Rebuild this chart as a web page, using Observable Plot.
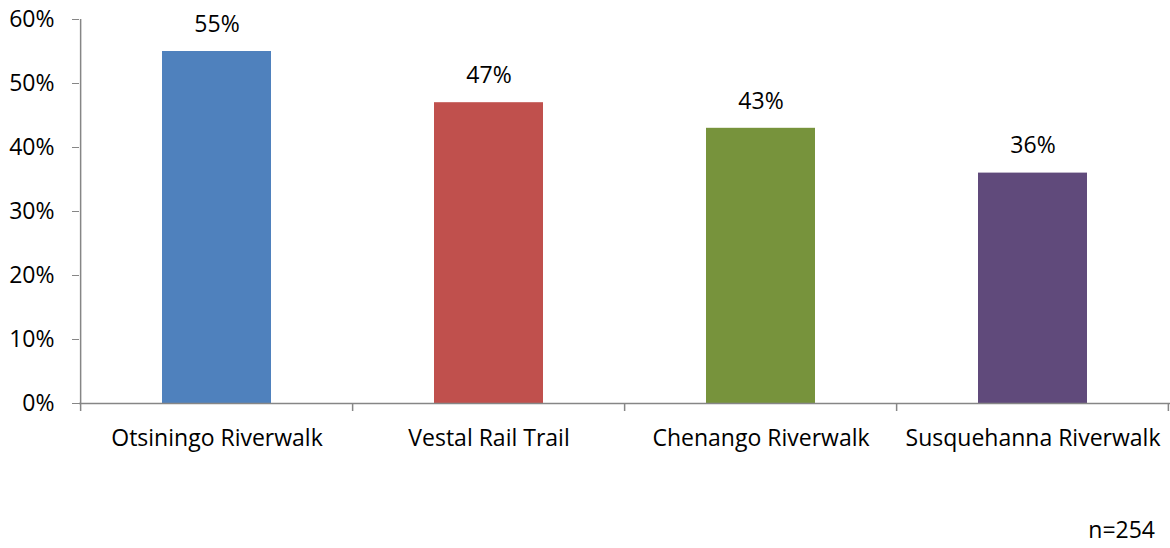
<!DOCTYPE html>
<html>
<head>
<meta charset="utf-8">
<script src="https://cdn.jsdelivr.net/npm/d3@7"></script>
<script src="https://cdn.jsdelivr.net/npm/@observablehq/plot@0.6"></script>
<style>
  html, body { margin: 0; padding: 0; background: #fff; }
  body { width: 1170px; height: 548px; overflow: hidden; font-family: "Open Sans", sans-serif; position: relative; }
  #caption { position: absolute; right: 15px; top: 513px; text-align: right; font-size: 23px; color: #000; line-height: 32px; }
</style>
</head>
<body>
<div id="chart"></div>
<div id="caption">n=254</div>
<script>
const categories = ["Otsiningo Riverwalk", "Vestal Rail Trail", "Chenango Riverwalk", "Susquehanna Riverwalk"];
const values = [55, 47, 43, 36];
const colors = ["#4F81BD", "#C0504D", "#77933C", "#604A7B"];
const yTicks = [0, 10, 20, 30, 40, 50, 60];

const data = categories.map((c, i) => ({category: c, value: values[i], color: colors[i]}));

const W = 1170, H = 470;
const mL = 79, mR = 0, mT = 19, mB = 67;
const bw = (W - mL - mR) / categories.length;
const axisColor = "#868686";
const fs = 23;

const chart = Plot.plot({
  width: W,
  height: H,
  marginLeft: mL,
  marginRight: mR,
  marginTop: mT,
  marginBottom: mB,
  style: {fontFamily: "Open Sans, sans-serif", fontSize: fs + "px", color: "#000", background: "#fff", overflow: "visible"},
  x: {domain: categories, paddingInner: 0.6, paddingOuter: 0.3, label: null},
  y: {domain: [0, 60], label: null},
  color: {type: "identity"},
  marks: [
    Plot.barY(data, {x: "category", y: "value", fill: "color"}),
    Plot.text(data, {x: "category", y: "value", text: d => d.value + "%", dy: -27, fill: "#000", fontSize: fs}),
    Plot.axisY({ticks: yTicks, tickFormat: d => d + "%", tickSize: 7, tickPadding: 18, stroke: axisColor, fill: "#000", label: null, fontSize: fs}),
    Plot.axisX({tickSize: 0, tickPadding: 26, fill: "#000", label: null, fontSize: fs}),
    Plot.ruleY([0], {stroke: axisColor, strokeWidth: 1.5}),
    Plot.ruleX([categories[0]], {x: d => d, dx: -bw / 2, y1: 0, y2: 60, stroke: axisColor, strokeWidth: 1.5}),
    Plot.ruleX(categories, {x: d => d, dx: -bw / 2, y1: 0, y2: -1.25, stroke: axisColor, strokeWidth: 1.5}),
    Plot.ruleX([categories[categories.length - 1]], {x: d => d, dx: bw / 2 - 1, y1: 0, y2: -1.25, stroke: axisColor, strokeWidth: 1.5})
  ]
});
document.getElementById("chart").appendChild(chart);
</script>
</body>
</html>
